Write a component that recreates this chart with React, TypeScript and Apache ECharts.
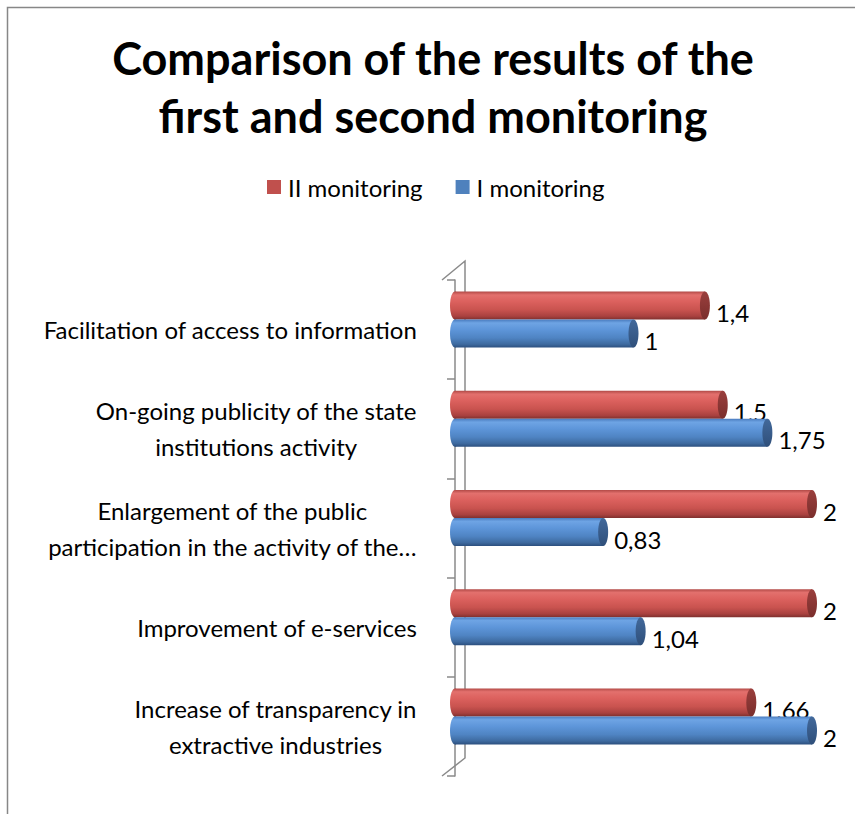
import React, { useEffect, useRef } from "react";
import * as echarts from "echarts";

const categories = [
  "Facilitation of access to information",
  "On-going publicity of the state\ninstitutions activity",
  "Enlargement of the public\nparticipation in the activity of the…",
  "Improvement of e-services",
  "Increase of transparency in\nextractive industries",
];
const seriesNames = ["II monitoring", "I monitoring"];
const monitoringII = [1.4, 1.5, 2, 2, 1.66];
const monitoringI = [1, 1.75, 0.83, 1.04, 2];

const FONT = "Lato, 'Open Sans', sans-serif";
const LABEL_SIZE = 24;

const palette = [
  {
    base: "#c0504d",
    stops: ["#b24a47", "#e3706d", "#dc615e", "#c9534f", "#a9413f", "#7f302e"],
    cap: ["#9a3f3d", "#7a2e2c"],
  },
  {
    base: "#4f81bd",
    stops: ["#4a7cbf", "#6ea4e4", "#5e96da", "#4f84c3", "#3e6a9f", "#2c4f7e"],
    cap: ["#42699b", "#2f4f7a"],
  },
];

function fmt(v: number) {
  return String(v).replace(".", ",");
}

function makeRender(seriesIdx: number) {
  const pal = palette[seriesIdx];
  return (params: any, api: any) => {
    const v = api.value(0);
    const idx = api.value(1);
    const p0 = api.coord([0, idx]);
    const p1 = api.coord([v, idx]);
    const h = 28;
    const center = p0[1] - 10;
    const yTop = seriesIdx === 0 ? center - h : center;
    const rx = 5;
    const grad = new echarts.graphic.LinearGradient(0, 0, 0, 1, [
      { offset: 0, color: pal.stops[0] },
      { offset: 0.12, color: pal.stops[1] },
      { offset: 0.35, color: pal.stops[2] },
      { offset: 0.65, color: pal.stops[3] },
      { offset: 0.88, color: pal.stops[4] },
      { offset: 1, color: pal.stops[5] },
    ]);
    const capGrad = new echarts.graphic.LinearGradient(0, 0, 0, 1, [
      { offset: 0, color: pal.cap[0] },
      { offset: 1, color: pal.cap[1] },
    ]);
    return {
      type: "group",
      children: [
        {
          type: "ellipse",
          shape: { cx: p0[0], cy: yTop + h / 2, rx: rx, ry: h / 2 },
          style: { fill: grad },
        },
        {
          type: "rect",
          shape: { x: p0[0], y: yTop, width: p1[0] - p0[0], height: h },
          style: { fill: grad },
        },
        {
          type: "ellipse",
          shape: { cx: p1[0], cy: yTop + h / 2, rx: rx, ry: h / 2 },
          style: { fill: capGrad },
        },
        {
          type: "text",
          style: {
            text: fmt(v),
            x: p1[0] + 11,
            y: yTop + h / 2 + 7,
            fill: "#000",
            font: `${LABEL_SIZE}px ${FONT}`,
            align: "left",
            verticalAlign: "middle",
          },
        },
      ],
    };
  };
}

export default function App() {
  const ref = useRef<HTMLDivElement>(null);
  useEffect(() => {
    if (!ref.current) return;
    const chart = echarts.init(ref.current, undefined, { renderer: "svg" });
    const wallColor = "#8a8a8a";
    chart.setOption({
      animation: false,
      backgroundColor: "#ffffff",
      title: {
        text: "Comparison of the results of the\nfirst and second monitoring",
        left: 433,
        top: 29,
        padding: 0,
        textAlign: "center",
        textStyle: {
          fontFamily: FONT,
          fontWeight: "bold",
          fontSize: 45,
          lineHeight: 58,
          color: "#000",
        },
      },
      legend: {
        data: seriesNames,
        left: 267,
        top: 175,
        padding: 0,
        icon: "rect",
        itemWidth: 14,
        itemHeight: 14,
        itemGap: 33,
        textStyle: { fontFamily: FONT, fontSize: LABEL_SIZE, color: "#000", padding: [0, 0, 0, 2] },
      },
      graphic: [
        {
          type: "rect",
          shape: { x: 7.5, y: 7.5, width: 1000, height: 1000 },
          style: { fill: "none", stroke: "#878787", lineWidth: 1.5 },
          z: -10,
        },
        {
          type: "polyline",
          shape: { points: [[442, 280], [465, 261], [465, 758], [442, 776]] },
          style: { fill: "none", stroke: wallColor, lineWidth: 1.5 },
          z: -5,
        },
      ],
      grid: {
        left: 455,
        right: 43,
        top: 280,
        bottom: 38,
        outerBoundsMode: "none",
        containLabel: false,
      },
      xAxis: {
        type: "value",
        min: 0,
        max: 2,
        show: false,
      },
      yAxis: {
        type: "category",
        data: categories,
        inverse: true,
        offset: 13,
        axisLine: { show: true, lineStyle: { color: wallColor, width: 1.5 } },
        axisTick: { show: true, length: 8, lineStyle: { color: wallColor, width: 1.5 } },
        splitLine: { show: false },
        axisLabel: {
          interval: 0,
          margin: 25,
          formatter: (val: string) =>
            val
              .split("\n")
              .map((l) => `{c|${l}}`)
              .join("\n"),
          rich: {
            c: {
              align: "center",
              fontFamily: FONT,
              fontSize: LABEL_SIZE,
              lineHeight: 36,
              color: "#000",
            },
          },
        },
      },
      series: [
        {
          name: seriesNames[0],
          type: "custom",
          coordinateSystem: "cartesian2d",
          itemStyle: { color: palette[0].base },
          encode: { x: 0, y: 1 },
          renderItem: makeRender(0),
          data: monitoringII.map((v, i) => [v, i]),
          z: 2,
        },
        {
          name: seriesNames[1],
          type: "custom",
          coordinateSystem: "cartesian2d",
          itemStyle: { color: palette[1].base },
          encode: { x: 0, y: 1 },
          renderItem: makeRender(1),
          data: monitoringI.map((v, i) => [v, i]),
          z: 3,
        },
      ],
    });
    return () => chart.dispose();
  }, []);
  return (
    <div
      ref={ref}
      style={{ position: "absolute", left: 0, top: 0, width: 855, height: 814 }}
    />
  );
}
